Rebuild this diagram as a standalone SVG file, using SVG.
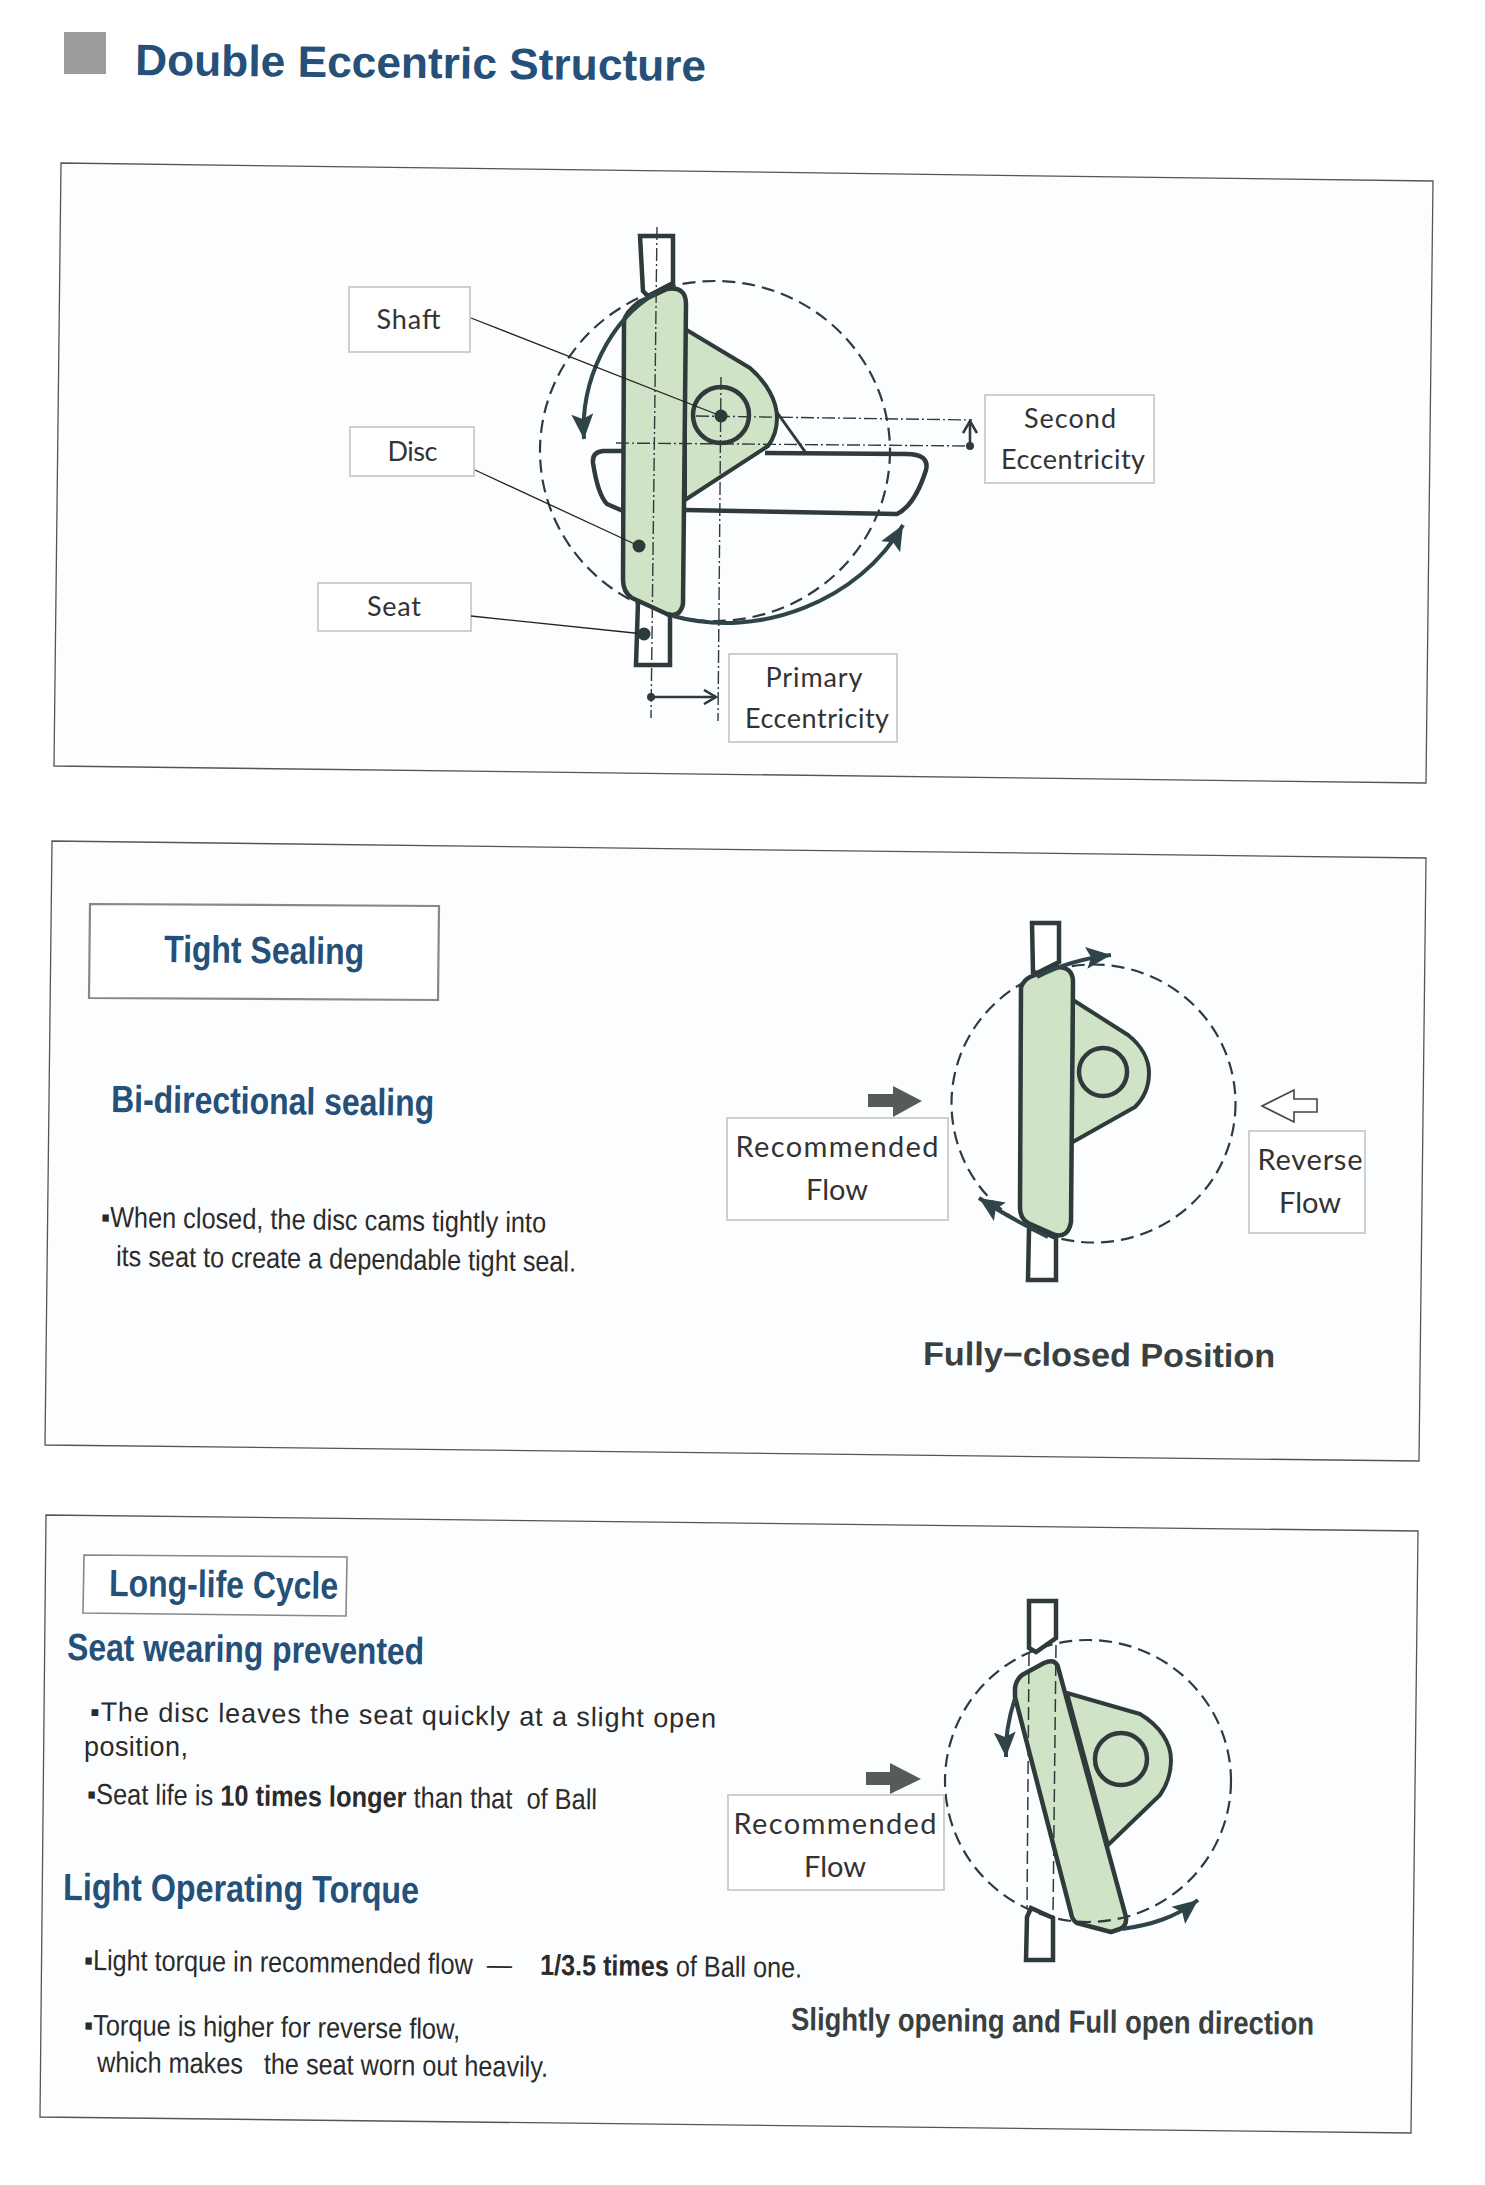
<svg xmlns="http://www.w3.org/2000/svg" width="1485" height="2185" viewBox="0 0 1485 2185">
<style>
.panel{fill:#fcfdfe;stroke:#555;stroke-width:1.3}
.lbl{fill:#fff;stroke:#cfcfcf;stroke-width:2}
.titlebox{fill:#fff;stroke:#888;stroke-width:2.2}
.shape{fill:#cfe3c6;stroke:#2f3b3b;stroke-width:4.5;stroke-linejoin:round}
.open{fill:none;stroke:#2f3b3b;stroke-width:4.5;stroke-linejoin:round}
.seat{fill:#fff;stroke:#2f3b3b;stroke-width:4.5;stroke-linejoin:miter}
.ring{fill:none;stroke:#2f3b3b;stroke-width:4.5}
.dash{fill:none;stroke:#2f3b3b;stroke-width:2.2;stroke-dasharray:13 7}
.dd{fill:none;stroke:#2f3b3b;stroke-width:1.4;stroke-dasharray:13 3 2 3}
.thin{fill:none;stroke:#2f3b3b;stroke-width:1.5;stroke-dasharray:13 5}
.lead{fill:none;stroke:#222;stroke-width:1.3}
.arc{fill:none;stroke:#2f4448;stroke-width:4;marker-end:url(#ah)}
.dim{fill:none;stroke:#2f3b3b;stroke-width:2.6;marker-end:url(#ah2)}
.dot{fill:#2f3b3b}
.cal{font-family:Lato,"Open Sans",sans-serif;font-size:27px;fill:#333;text-anchor:middle}
.head{font-family:"Liberation Sans",Arial,sans-serif;font-weight:700;font-size:38px;fill:#24507a}
.body{font-family:"Liberation Sans",Arial,sans-serif;font-size:29px;fill:#2b2b2b}
.b{font-weight:700}
.cap{font-family:"Liberation Sans",Arial,sans-serif;font-size:33px;font-weight:700;fill:#3a3f40}
</style>
<defs>
<marker id="ah" markerUnits="userSpaceOnUse" markerWidth="28" markerHeight="28" viewBox="0 0 28 28" refX="25" refY="14" orient="auto"><path d="M0,3 L25,14 L0,25 L5,14 Z" fill="#2f4448"/></marker>
<marker id="ah2" markerUnits="userSpaceOnUse" markerWidth="16" markerHeight="16" viewBox="0 0 16 16" refX="14" refY="8" orient="auto"><path d="M2,1 L14,8 L2,15" fill="none" stroke="#2f3b3b" stroke-width="2.6"/></marker>
</defs>
<rect width="1485" height="2185" fill="#fff"/>

<g id="header">
<rect x="64" y="32" width="42" height="42" fill="#9a9c9c"/>
<text x="135" y="75" class="head" style="font-size:44px" textLength="571" lengthAdjust="spacingAndGlyphs" transform="rotate(0.6 135 75)">Double Eccentric Structure</text>
</g>

<g id="panel-structure">
<polygon class="panel" points="61,163 1433,181 1426,783 54,766"/>
<g id="valve-structure">
<ellipse class="dash" cx="715" cy="451" rx="175" ry="170"/>
<path class="seat" d="M640,236 H673 V283 L648,296 L643,291 Z"/>
<path class="seat" d="M638,602 L644,597 L670,616 V665 H636 Z"/>
<path class="open" d="M765,453 L906,454 Q930,454 926,470 Q915,505 897,514 L685,510"/>
<path class="open" d="M624,451 L603,451 Q592,452 593,463 Q598,495 607,504 L623,511"/>
<path class="shape" d="M685,329 L750,368 C766,382 777,400 777,418 C777,428 774,438 768,446 L685,500 Z" style="stroke-width:4"/>
<path class="shape" d="M624,321 Q626,312 639,302 L667,289 Q686,286 686,304 L683,604 Q680,618 667,614 L632,598 Q623,592 623,580 Z"/>
<circle class="ring" cx="721" cy="415" r="28"/>
<path d="M776,411 L806,453" fill="none" stroke="#2f3b3b" stroke-width="3"/>
</g>
<g id="label-shaft"><rect class="lbl" x="349" y="287" width="121" height="65"/><text class="cal" x="408.500" y="329" textLength="64">Shaft</text></g>
<g id="label-disc"><rect class="lbl" x="350" y="427" width="124" height="49"/><text class="cal" x="412.500" y="461" textLength="50">Disc</text></g>
<g id="label-seat"><rect class="lbl" x="318" y="583" width="153" height="48"/><text class="cal" x="394" y="616" textLength="54">Seat</text></g>
<g id="label-second"><rect class="lbl" x="985" y="395" width="169" height="88"/><text class="cal" x="1070" y="428" textLength="92">Second</text><text class="cal" x="1073" y="469" textLength="144">Eccentricity</text></g>
<g id="label-primary"><rect class="lbl" x="729" y="654" width="168" height="88"/><text class="cal" x="814" y="687" textLength="97">Primary</text><text class="cal" x="817" y="728" textLength="144">Eccentricity</text></g>
<g id="connectors-structure">
<path class="dd" d="M657,227 L651,718"/>
<path class="dd" d="M721,377 L718,721"/>
<path class="dd" d="M696,416 L972,420"/>
<path class="dd" d="M616,443 L972,446"/>
<path class="arc" d="M656,293 C610,320 580,380 584,439"/>
<path class="arc" d="M673,616 C760,640 860,600 903,525"/>
<path class="dim" d="M970,446 L970,421"/>
<path class="dim" d="M651,697 L716,697"/>
<circle class="dot" cx="970" cy="446" r="4"/>
<circle class="dot" cx="651" cy="697" r="4"/>
<path class="lead" d="M471,318 L721,416"/>
<path class="lead" d="M475,470 L639,546"/>
<path class="lead" d="M471,616 L644,634"/>
<circle class="dot" cx="721" cy="416" r="6.5"/>
<circle class="dot" cx="639" cy="546" r="6.5"/>
<circle class="dot" cx="644" cy="634" r="6.5"/>
</g>
</g>

<g id="panel-sealing">
<polygon class="panel" points="52,841 1426,858 1419,1461 45,1445"/>
<polygon id="title-tight" class="titlebox" points="90,904 439,906 438,1000 89,998"/>
<text class="head" x="164" y="962" textLength="200" lengthAdjust="spacingAndGlyphs" transform="rotate(0.7 164 962)">Tight Sealing</text>
<text class="head" x="111" y="1112" textLength="323" lengthAdjust="spacingAndGlyphs" transform="rotate(0.7 111 1112)">Bi-directional sealing</text>
<text class="body" x="101" y="1227" textLength="445" lengthAdjust="spacingAndGlyphs" transform="rotate(0.7 101 1227)">▪When closed, the disc cams tightly into</text>
<text class="body" x="116" y="1266" textLength="460" lengthAdjust="spacingAndGlyphs" transform="rotate(0.7 116 1266)">its seat to create a dependable tight seal.</text>
<g id="valve-closed">
<ellipse class="dash" cx="1093.5" cy="1103.5" rx="142" ry="139"/>
<path class="seat" d="M1032,923 H1059 V962 L1037,973 L1033,972 Z"/>
<path class="seat" d="M1029,1230 L1033,1228 L1056,1238 V1280 H1028 Z"/>
<path class="shape" d="M1073,1000 L1128,1035 C1142,1046 1149,1060 1149,1073 C1149,1086 1144,1098 1135,1107 L1071,1143 Z" style="stroke-width:4"/>
<path class="shape" d="M1021,987 Q1024,980 1030,977 L1055,967 Q1073,966 1073,982 L1071,1222 Q1068,1238 1055,1235 L1028,1223 Q1020,1218 1020,1208 Z"/>
<circle class="ring" cx="1103" cy="1072" r="24"/>
</g>
<g id="label-rec-1"><rect class="lbl" x="727" y="1118" width="221" height="102"/><text class="cal" x="837" y="1157" style="font-size:29px" textLength="203">Recommended</text><text class="cal" x="837" y="1200" style="font-size:29px" textLength="62">Flow</text></g>
<g id="label-rev"><rect class="lbl" x="1249" y="1131" width="116" height="102"/><text class="cal" x="1310" y="1170" style="font-size:29px" textLength="105">Reverse</text><text class="cal" x="1310" y="1213" style="font-size:29px" textLength="62">Flow</text></g>
<g id="connectors-closed">
<path class="arc" d="M1037,977 C1060,965 1085,958 1111,955"/>
<path class="arc" d="M1048,1237 C1030,1228 1005,1215 979,1198"/>
<polygon id="arrow-rec-1" points="868,1094 893,1094 893,1086 922,1101 893,1117 893,1107 868,1107" fill="#555a5a"/>
<polygon id="arrow-rev" points="1262,1106 1294,1090 1294,1099 1317,1099 1317,1112 1294,1112 1294,1122" fill="#fff" stroke="#444" stroke-width="1.6"/>
</g>
<text class="cap" x="923" y="1365" textLength="352" lengthAdjust="spacingAndGlyphs" transform="rotate(0.4 923 1365)">Fully−closed Position</text>
</g>

<g id="panel-longlife">
<polygon class="panel" points="46,1515 1418,1531 1411,2133 40,2117"/>
<polygon id="title-long" class="titlebox" points="84,1555 347,1557 346,1616 83,1613" style="stroke-width:1.6"/>
<text class="head" x="109" y="1596" textLength="229" lengthAdjust="spacingAndGlyphs" transform="rotate(0.7 109 1596)">Long-life Cycle</text>
<text class="head" x="67" y="1660" textLength="357" lengthAdjust="spacingAndGlyphs" transform="rotate(0.7 67 1660)">Seat wearing prevented</text>
<text class="body" x="90" y="1721" style="font-size:27px" textLength="626" transform="rotate(0.6 90 1721)">▪The disc leaves the seat quickly at a slight open</text>
<text class="body" x="84" y="1756" style="font-size:27px" textLength="104">position,</text>
<text class="body" x="87" y="1804" textLength="510" lengthAdjust="spacingAndGlyphs" transform="rotate(0.6 87 1804)" xml:space="preserve">▪Seat life is <tspan class="b">10 times longer</tspan> than that  of Ball</text>
<text class="head" x="63" y="1900" textLength="356" lengthAdjust="spacingAndGlyphs" transform="rotate(0.5 63 1900)">Light Operating Torque</text>
<text class="body" x="84" y="1970" textLength="718" lengthAdjust="spacingAndGlyphs" transform="rotate(0.6 84 1970)" xml:space="preserve">▪Light torque in recommended flow  —    <tspan class="b">1/3.5 times</tspan> of Ball one.</text>
<text class="body" x="84" y="2035" textLength="376" lengthAdjust="spacingAndGlyphs" transform="rotate(0.6 84 2035)">▪Torque is higher for reverse flow,</text>
<text class="body" x="97" y="2072" textLength="451" lengthAdjust="spacingAndGlyphs" transform="rotate(0.6 97 2072)" xml:space="preserve">which makes   the seat worn out heavily.</text>
<g id="valve-open">
<path class="seat" d="M1029,1601 H1056 V1638 L1036,1652 L1029,1648 Z"/>
<path class="seat" d="M1027,1917 L1031,1908 L1053,1918 V1960 H1026 Z"/>
<path class="shape" d="M1067,1693 L1140,1714 C1160,1726 1171,1743 1171,1760 C1171,1773 1167,1785 1160,1795 L1108,1845 Z" style="stroke-width:4"/>
<path class="shape" d="M1015,1688 Q1016,1680 1022,1675 L1044,1663 Q1055,1658 1058,1667 L1126,1917 Q1127,1926 1120,1929 L1111,1932 L1077,1923 Q1072,1920 1071,1913 L1015,1697 Z"/>
<circle class="ring" cx="1121" cy="1759" r="26"/>
<ellipse class="dash" cx="1088" cy="1781" rx="143" ry="141"/>
<path class="thin" d="M1029,1653 L1027,1908"/>
<path class="thin" d="M1056,1645 L1053,1917"/>
</g>
<g id="label-rec-2"><rect class="lbl" x="728" y="1795" width="216" height="95"/><text class="cal" x="835" y="1834" style="font-size:29px" textLength="203">Recommended</text><text class="cal" x="835" y="1877" style="font-size:29px" textLength="62">Flow</text></g>
<g id="connectors-open">
<path class="arc" d="M1015,1698 C1008,1720 1005,1738 1006,1757"/>
<path class="arc" d="M1122,1929 C1150,1925 1175,1918 1198,1900"/>
<polygon id="arrow-rec-2" points="866,1772 890,1772 890,1763 921,1779 890,1794 890,1785 866,1785" fill="#555a5a"/>
</g>
<text class="cap" x="791" y="2030" style="font-size:32px" textLength="523" lengthAdjust="spacingAndGlyphs" transform="rotate(0.5 791 2030)">Slightly opening and Full open direction</text>
</g>
</svg>
